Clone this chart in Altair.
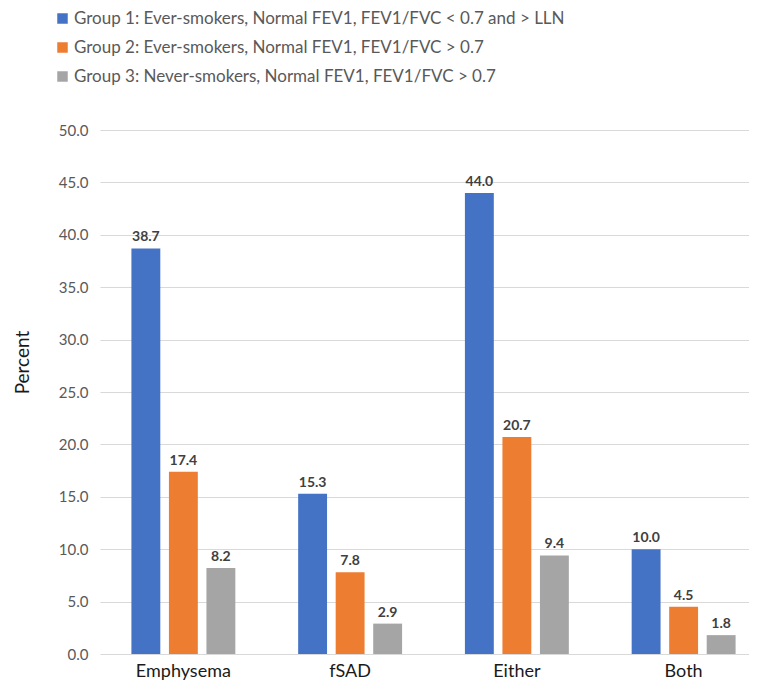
import altair as alt
import pandas as pd

categories = ["Emphysema", "fSAD", "Either", "Both"]
groups = [
    "Group 1: Ever-smokers, Normal FEV1, FEV1/FVC < 0.7 and > LLN",
    "Group 2: Ever-smokers, Normal FEV1, FEV1/FVC  > 0.7",
    "Group 3: Never-smokers, Normal FEV1, FEV1/FVC  > 0.7",
]
group1 = [38.7, 15.3, 44.0, 10.0]
group2 = [17.4, 7.8, 20.7, 4.5]
group3 = [8.2, 2.9, 9.4, 1.8]
colors = ["#4472C4", "#ED7D31", "#A5A5A5"]

rows = []
for g, vals in zip(groups, [group1, group2, group3]):
    for c, v in zip(categories, vals):
        rows.append({"category": c, "group": g, "value": v})
df = pd.DataFrame(rows)

FONT = "Lato"

x = alt.X(
    "category:N",
    sort=categories,
    scale=alt.Scale(range=[0, 667], paddingInner=0.325, paddingOuter=0.1625),
    axis=alt.Axis(
        title=None, labelAngle=0, ticks=False, domain=False,
        labelFontSize=18, labelColor="#1a1a1a", labelPadding=22,
        labelBaseline="alphabetic", labelFont=FONT,
    ),
)
xo = alt.XOffset(
    "group:N", sort=groups,
    scale=alt.Scale(paddingInner=0.23, paddingOuter=0.115),
)
y = alt.Y(
    "value:Q",
    scale=alt.Scale(domain=[0, 50]),
    axis=alt.Axis(
        values=[0, 5, 10, 15, 20, 25, 30, 35, 40, 45, 50],
        format=".1f", ticks=False, domain=False,
        labelFontSize=15, labelColor="#595959", labelPadding=12, labelFont=FONT,
        gridColor="#d9d9d9", gridWidth=1,
        title="Percent", titleFontSize=19, titleFontWeight="normal",
        titleColor="#1a1a1a", titleFont=FONT,
        titleAngle=270, titleX=-78, titleY=232,
        titleAlign="center", titleBaseline="middle",
    ),
)

bars = alt.Chart(df).mark_bar().encode(
    x=x, xOffset=xo, y=y,
    color=alt.Color(
        "group:N", sort=groups,
        scale=alt.Scale(domain=groups, range=colors),
        legend=alt.Legend(
            title=None, orient="none", legendX=-46, legendY=-120,
            symbolType="square", symbolSize=110, symbolStrokeWidth=0,
            labelFontSize=17, labelColor="#595959", labelFont=FONT,
            rowPadding=11, labelLimit=700, labelOffset=3,
        ),
    ),
)

labels = alt.Chart(df).mark_text(
    baseline="bottom", dy=-4, fontSize=14, fontWeight="bold",
    color="#404040", font=FONT,
).encode(
    x=x, xOffset=xo, y=y,
    text=alt.Text("value:Q", format=".1f"),
)

chart = alt.layer(bars, labels).properties(
    width=649, height=524,
    autosize=alt.AutoSizeParams(type="none"),
    padding={"left": 92, "top": 122, "right": 0, "bottom": 27},
).configure_view(stroke=None)

chart.save("out.html", embed_options={"renderer": "svg", "actions": False})
